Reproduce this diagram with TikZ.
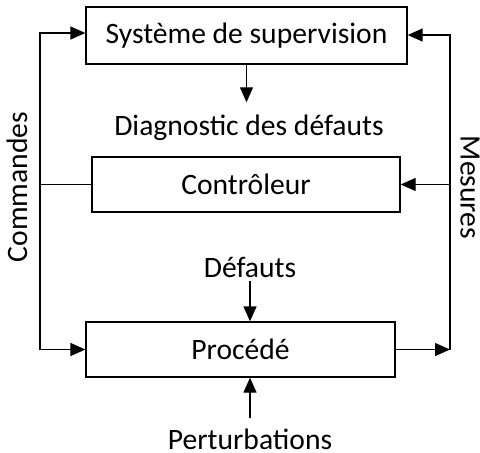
\documentclass[tikz,border=0pt]{standalone}
\usepackage{fontspec}
\setmainfont{Carlito}
\usetikzlibrary{arrows.meta}
\tikzset{
  bloc/.style={draw, line width=0.65pt, inner sep=0pt, font=\fontsize{14.8}{17}\selectfont},
  etiq/.style={inner sep=0pt, font=\fontsize{14.8}{17}\selectfont},
  fleche/.style={-{Triangle[length=7.5pt,width=6.5pt]}, line width=0.65pt},
  trait/.style={line width=0.65pt}
}

\begin{document}
\begin{tikzpicture}[x=0.5pt,y=0.5pt]
\useasboundingbox (0,0) rectangle (480,452);

\node[bloc, minimum width=160.5pt, minimum height=28.5pt] (sup) at (246.5,416.5) {Système de supervision};
\node[bloc, minimum width=154pt, minimum height=27.5pt] (ctrl) at (246,267.5) {Contrôleur};
\node[bloc, minimum width=154.5pt, minimum height=27.5pt] (proc) at (240.5,102.5) {Procédé};

\node[etiq, inner ysep=6pt] (diag) at (249,324.5) {Diagnostic des défauts};
\node[etiq, inner ysep=1.5pt] (def) at (250,184.5) {Défauts};
\node[etiq, inner ysep=5pt] (pert) at (250,13) {Perturbations};
\node[etiq, rotate=90] (cmd) at (17,265) {Commandes};
\node[etiq, rotate=-90] (mes) at (470,264.5) {Mesures};

\coordinate (gh) at (40,419);
\coordinate (gb) at (40,102.5);
\coordinate (dh) at (450,417);
\coordinate (db) at (450,102.5);

\draw[fleche] (sup.south) -- (sup.south |- diag.north);
\draw[fleche] (def.south) -- (def.south |- proc.north);
\draw[fleche] (pert.north) -- (pert.north |- proc.south);

\draw[fleche] (gb) -- (gh) -- (gh -| sup.west);
\draw[fleche] (gb) -- (proc.west);
\draw[trait] (ctrl.west) -- (ctrl.west -| gh);

\draw[fleche] (proc.east) -- (db);
\draw[fleche] (db) -- (dh) -- (dh -| sup.east);
\draw[fleche] (ctrl.east -| dh) -- (ctrl.east);
\end{tikzpicture}
\end{document}
